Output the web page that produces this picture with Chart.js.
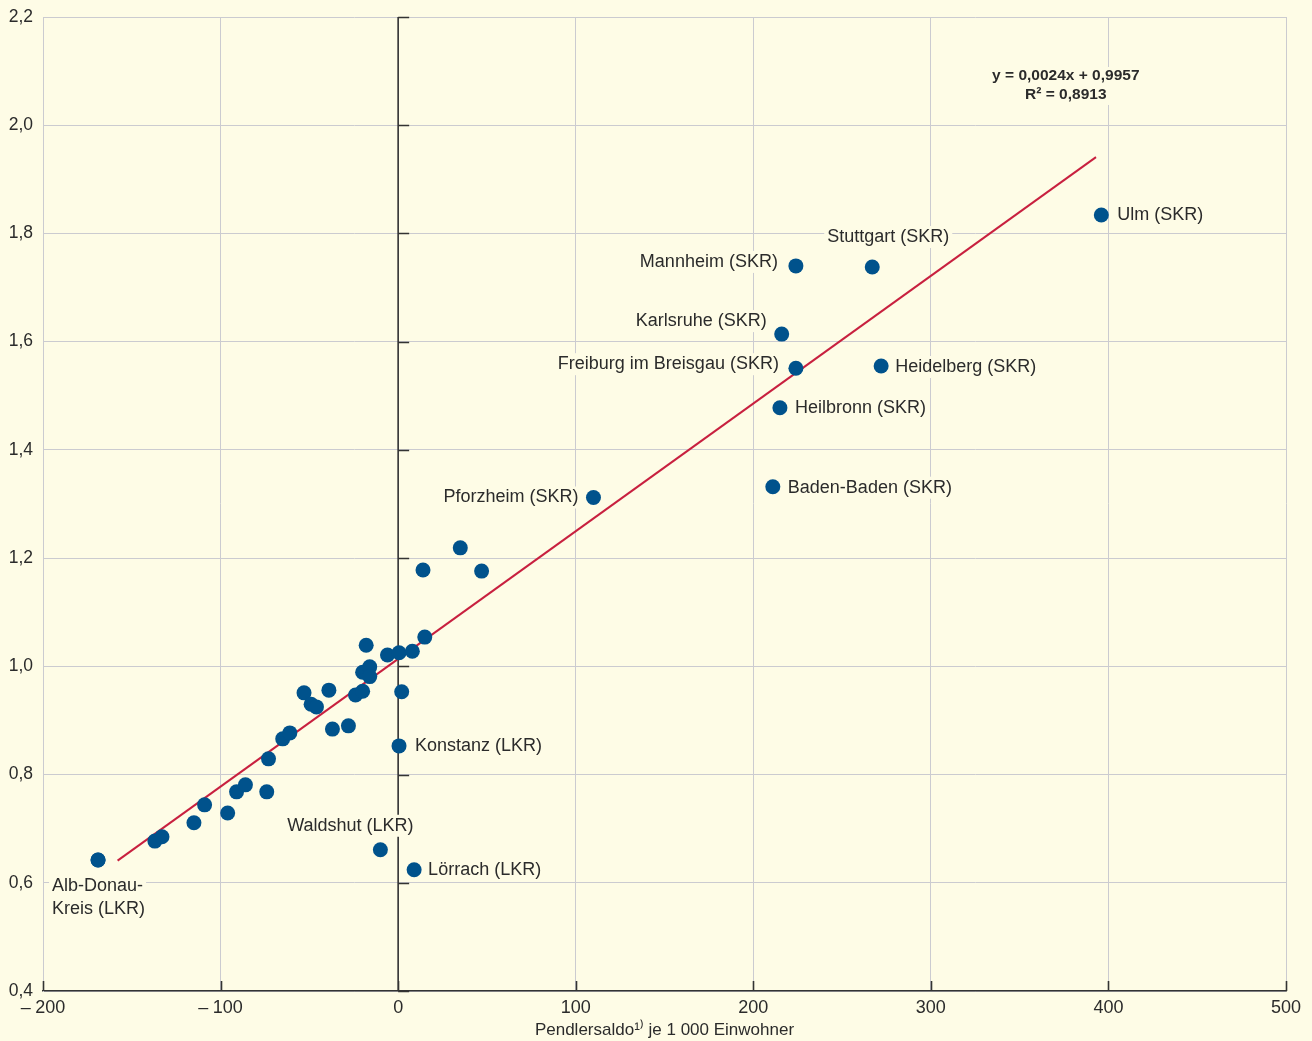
<!DOCTYPE html>
<html>
<head>
<meta charset="utf-8">
<script src="https://cdn.jsdelivr.net/npm/chart.js@4.4.1/dist/chart.umd.min.js"></script>
<style>
  html, body { margin: 0; padding: 0; background: #fefce6; }
  canvas { display: block; }
</style>
</head>
<body>
<canvas id="pendlerChart" width="1312" height="1041" style="width:1312px;height:1041px"></canvas>
<script>
// Kreise ohne Beschriftung (Pendlersaldo, Wert)
const otherX = [-169, -137, -133, -115, -109, -96, -91, -86, -74, -73, -65, -61, -53, -49, -46, -39, -37, -28, -24, -20, -20, -18, -16, -16, -6, 0.5, 2, 8, 15, 14, 35, 47];
const otherY = [0.642, 0.677, 0.685, 0.711, 0.744, 0.729, 0.768, 0.781, 0.768, 0.829, 0.866, 0.877, 0.951, 0.930, 0.925, 0.956, 0.884, 0.890, 0.947, 0.954, 0.989, 1.039, 0.999, 0.981, 1.021, 1.025, 0.953, 1.028, 1.054, 1.178, 1.219, 1.176];

// Beschriftete Kreise
const cityNames = ['Ulm (SKR)', 'Stuttgart (SKR)', 'Mannheim (SKR)', 'Karlsruhe (SKR)', 'Freiburg im Breisgau (SKR)', 'Heidelberg (SKR)', 'Heilbronn (SKR)', 'Baden-Baden (SKR)', 'Pforzheim (SKR)', 'Konstanz (LKR)', 'Waldshut (LKR)', 'Lörrach (LKR)', 'Alb-Donau-|Kreis (LKR)'];
const cityX = [396, 267, 224, 216, 224, 272, 215, 211, 110, 0.5, -10, 9, -169];
const cityY = [1.834, 1.738, 1.740, 1.614, 1.551, 1.555, 1.478, 1.332, 1.312, 0.853, 0.661, 0.624, 0.642];

// Regressionsgerade (Endpunkte wie gezeichnet)
const trendX = [-158, 393];
const trendY = [0.641, 1.941];

const xTicks = { min: -200, max: 500, step: 100 };
const yTicks = { min: 0.4, max: 2.2, step: 0.2 };

const equationLines = ['y = 0,0024x + 0,9957', 'R² = 0,8913'];
const axisTitle = 'Pendlersaldo¹⁾ je 1 000 Einwohner';

// Lage der Beschriftungen relativ zum Punkt (dx, dy, Ausrichtung)
const labelPlacement = {
  'Ulm (SKR)': [16, 0, 'left'],
  'Stuttgart (SKR)': [16, -30, 'center'],
  'Mannheim (SKR)': [-18, -4, 'right'],
  'Karlsruhe (SKR)': [-15, -13, 'right'],
  'Freiburg im Breisgau (SKR)': [-17, -4, 'right'],
  'Heidelberg (SKR)': [14, 1, 'left'],
  'Heilbronn (SKR)': [15, 0, 'left'],
  'Baden-Baden (SKR)': [15, 1, 'left'],
  'Pforzheim (SKR)': [-15, 0, 'right'],
  'Konstanz (LKR)': [16, 0, 'left'],
  'Waldshut (LKR)': [-30, -24, 'center'],
  'Lörrach (LKR)': [14, 0, 'left'],
  'Alb-Donau-|Kreis (LKR)': [-46, 26, 'left']
};

const BG = '#fefce6';
const TEXT = '#2b2b2b';
const GRID = '#cbcbd0';
const FONT = '"Liberation Sans", Arial, sans-serif';

const toXY = (xs, ys) => xs.map((x, i) => ({ x: x, y: ys[i] }));

const bgPlugin = {
  id: 'bg',
  beforeDraw(chart) {
    const c = chart.ctx;
    c.save();
    c.fillStyle = BG;
    c.fillRect(0, 0, chart.width, chart.height);
    c.restore();
  }
};

const annotPlugin = {
  id: 'annot',
  beforeDatasetsDraw(chart) {
    const c = chart.ctx;
    const xs = chart.scales.x, ys = chart.scales.y;
    const area = chart.chartArea;
    const x0 = xs.getPixelForValue(0);
    c.save();
    c.strokeStyle = '#333';
    c.lineWidth = 1.6;
    // Nulllinie mit Teilstrichen
    c.beginPath();
    c.moveTo(x0, area.top);
    c.lineTo(x0, area.bottom);
    ys.ticks.forEach(t => {
      const py = Math.round(ys.getPixelForValue(t.value)) + 0.5;
      c.moveTo(x0, py);
      c.lineTo(x0 + 11, py);
    });
    xs.ticks.forEach(t => {
      const px = Math.round(xs.getPixelForValue(t.value)) + 0.5;
      c.moveTo(px, area.bottom);
      c.lineTo(px, area.bottom - 10);
    });
    c.stroke();

    // Beschriftungen der Punkte
    c.font = '18px ' + FONT;
    c.textBaseline = 'middle';
    cityNames.forEach((name, i) => {
      const px = xs.getPixelForValue(cityX[i]);
      const py = ys.getPixelForValue(cityY[i]);
      const p = labelPlacement[name];
      c.textAlign = p[2];
      name.split('|').forEach((line, k) => {
        const tx = px + p[0];
        const ty = py + p[1] + k * 23;
        const w = c.measureText(line).width;
        let left = tx;
        if (p[2] === 'right') left = tx - w;
        if (p[2] === 'center') left = tx - w / 2;
        c.fillStyle = BG;
        c.fillRect(left - 3, ty - 11, w + 6, 22);
        c.fillStyle = TEXT;
        c.fillText(line, tx, ty);
      });
    });

    // Gleichung
    c.font = 'bold 15.5px ' + FONT;
    c.textAlign = 'center';
    const ex = xs.getPixelForValue(376);
    const ey = ys.getPixelForValue(2.091);
    equationLines.forEach((line, k) => {
      const w = c.measureText(line).width;
      c.fillStyle = BG;
      c.fillRect(ex - w / 2 - 3, ey + k * 19 - 9, w + 6, 19);
      c.fillStyle = TEXT;
      c.fillText(line, ex, ey + k * 19);
    });
    c.restore();
  }
};

const ctx = document.getElementById('pendlerChart').getContext('2d');
const pendlerChart = new Chart(ctx, {
  type: 'scatter',
  data: {
    datasets: [
      {
        label: 'Regression',
        type: 'line',
        data: toXY(trendX, trendY),
        borderColor: '#c8203f',
        borderWidth: 2,
        pointRadius: 0,
        fill: false,
        order: 2
      },
      {
        label: 'Kreise',
        data: toXY(otherX, otherY).concat(toXY(cityX, cityY)),
        backgroundColor: '#00528c',
        borderWidth: 0,
        pointRadius: 7.5,
        pointHoverRadius: 7.5,
        order: 1
      }
    ]
  },
  options: {
    responsive: false,
    animation: false,
    layout: { padding: { top: 17, right: 26, left: 0, bottom: 0 } },
    plugins: {
      legend: { display: false },
      tooltip: { enabled: false }
    },
    scales: {
      x: {
        type: 'linear',
        min: xTicks.min,
        max: xTicks.max,
        ticks: {
          stepSize: xTicks.step,
          color: TEXT,
          font: { size: 18, family: FONT },
          padding: 6,
          maxRotation: 0,
          callback: v => v < 0 ? '–\u2005' + Math.abs(v) : String(v)
        },
        grid: { color: GRID, lineWidth: 1, drawTicks: false },
        border: { color: '#333', width: 1.6 },
        title: {
          display: true,
          text: axisTitle,
          color: TEXT,
          font: { size: 17, family: FONT },
          padding: { top: 0, bottom: 0 }
        },
        afterFit: s => { s.height = 50; s.paddingLeft = 0; s.paddingRight = 0; }
      },
      y: {
        type: 'linear',
        min: yTicks.min,
        max: yTicks.max,
        ticks: {
          stepSize: yTicks.step,
          color: TEXT,
          font: { size: 17.5, family: FONT },
          padding: 10,
          callback: v => v.toFixed(1).replace('.', ',')
        },
        grid: { color: GRID, lineWidth: 1, drawTicks: false },
        border: { color: GRID, width: 1 },
        afterFit: s => { s.width = 43; s.paddingTop = 0; s.paddingBottom = 0; }
      }
    }
  },
  plugins: [bgPlugin, annotPlugin]
});
</script>
</body>
</html>
